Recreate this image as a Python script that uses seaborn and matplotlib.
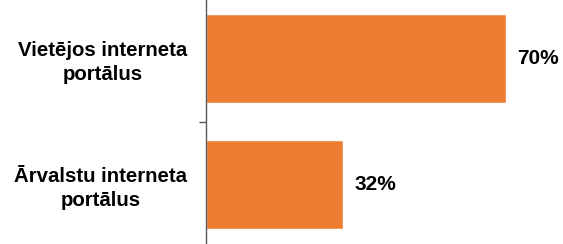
import matplotlib
matplotlib.use("Agg")
import matplotlib.pyplot as plt
import seaborn as sns

# data
categories = ["Vietējos interneta\nportālus", "Ārvalstu interneta\nportālus"]
values = [70, 32]
value_labels = ["70%", "32%"]

sns.set_theme(style="white")
plt.rcParams['font.family'] = ['Liberation Sans', 'DejaVu Sans']

fig = plt.figure(figsize=(5.63, 2.44), dpi=100)
ax = fig.add_axes([206 / 563, -3.5 / 244, 1 - 206 / 563, 252 / 244])

sns.barplot(x=values, y=categories, color="#ED7D31", saturation=1,
            width=0.706, orient="h", ax=ax)

ax.set_xlim(0, 83.4)
ax.set_ylim(1.5, -0.5)
ax.set_xlabel("")
ax.set_ylabel("")
ax.set_xticks([])

for s in ["top", "right", "bottom"]:
    ax.spines[s].set_visible(False)
ax.spines["left"].set_color("#595959")
ax.spines["left"].set_linewidth(1.0)

# category labels centered, boundary tick between categories
ax.set_yticks([0, 1])
ax.set_yticklabels(categories, fontsize=14.7, fontweight="bold",
                   multialignment="center", color="black", linespacing=1.3)
ax.tick_params(axis="y", which="major", length=0, pad=13.5)
ax.set_yticks([0.5], minor=True)
ax.tick_params(axis="y", which="minor", length=5, width=1, color="#595959", left=True)

ax.bar_label(ax.containers[0], labels=value_labels, padding=8,
             fontsize=15, fontweight="bold", color="black")

fig.savefig("out.png", dpi=100)
